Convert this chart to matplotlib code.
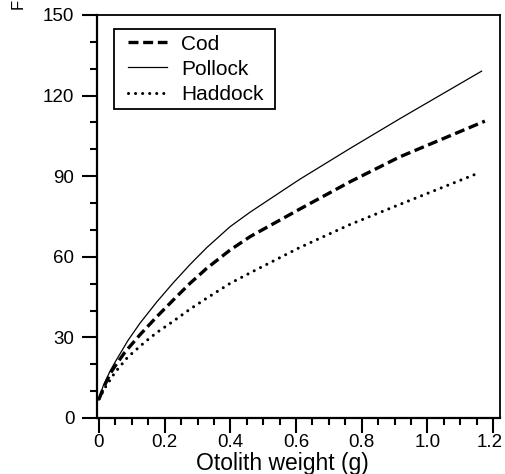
import matplotlib
matplotlib.use("Agg")
import matplotlib.pyplot as plt
from matplotlib.ticker import MultipleLocator, FixedLocator
from matplotlib.patches import Rectangle
from matplotlib.transforms import ScaledTranslation

plt.rcParams['font.family'] = ['Liberation Sans', 'DejaVu Sans']

# Data (otolith weight in g, fish length)
pollock_w = [0, 0.013, 0.034, 0.05, 0.088, 0.125, 0.176, 0.226, 0.277, 0.328, 0.399, 0.46, 0.571, 0.612, 0.764, 0.916, 1.165]
pollock_l = [7.0, 12.0, 17.5, 21.0, 28.8, 35.3, 43.2, 50.3, 57.1, 63.4, 71.2, 76.6, 85.6, 88.9, 100.3, 111.4, 129.1]

cod_w = [0, 0.013, 0.034, 0.05, 0.079, 0.125, 0.176, 0.226, 0.277, 0.328, 0.399, 0.46, 0.612, 0.764, 0.916, 1.175]
cod_l = [7.0, 11.0, 16.5, 19.5, 24.5, 31.0, 37.7, 43.9, 50.1, 55.7, 62.5, 67.5, 77.8, 87.9, 97.2, 110.5]

haddock_w = [0, 0.018, 0.049, 0.088, 0.14, 0.176, 0.226, 0.277, 0.328, 0.399, 0.46, 0.612, 0.764, 0.916, 1.16]
haddock_l = [7.0, 11.2, 17.0, 22.7, 28.3, 31.8, 36.0, 40.5, 44.6, 50.1, 54.0, 63.5, 72.0, 79.5, 91.4]

x_ticks = [0, 0.2, 0.4, 0.6, 0.8, 1.0, 1.2]
x_tick_labels = ["0", "0.2", "0.4", "0.6", "0.8", "1.0", "1.2"]
y_ticks = [0, 30, 60, 90, 120, 150]
y_tick_labels = ["0", "30", "60", "90", "120", "150"]

W, H = 505, 474
fig = plt.figure(figsize=(W / 100, H / 100), dpi=100)
ax = fig.add_axes([97 / W, (H - 418) / H, (500 - 97) / W, (418 - 15) / H])

ax.plot(cod_w, cod_l, color='black', lw=2.4, linestyle=(0, (3, 1.4)),
        dash_capstyle='butt', label='Cod')
ax.plot(pollock_w, pollock_l, color='black', lw=0.9, linestyle='-', label='Pollock')
ax.plot(haddock_w, haddock_l, color='black', lw=2.2, linestyle=(0, (0.01, 2.3)),
        dash_capstyle='round', label='Haddock')

ax.set_xlim(-0.006, 1.221)
ax.set_ylim(0, 150)

ax.xaxis.set_major_locator(FixedLocator(x_ticks))
ax.set_xticklabels(x_tick_labels)
ax.xaxis.set_minor_locator(MultipleLocator(0.05))
ax.yaxis.set_major_locator(FixedLocator(y_ticks))
ax.set_yticklabels(y_tick_labels)
ax.yaxis.set_minor_locator(MultipleLocator(10))

ax.tick_params(which='major', direction='out', length=10.8, width=1.5, labelsize=13.5, pad=1)
ax.tick_params(axis='y', which='major', pad=5.5)
ax.tick_params(which='minor', direction='out', length=5, width=1.5)
for s in ax.spines.values():
    s.set_linewidth(1.3)
ax.spines['left'].set_linewidth(1.6)
ax.spines['bottom'].set_linewidth(1.6)

# keep the last x tick label inside the canvas
last = ax.get_xticklabels()[-1]
last.set_transform(last.get_transform() + ScaledTranslation(-3 / 100, 0, fig.dpi_scale_trans))

ax.set_xlabel('Otolith weight (g)', fontsize=16.5)
ax.xaxis.set_label_coords(0.46, -0.129)
ax.xaxis.label.set_va('baseline')

# partially visible y-axis label (only the first letter shows in the reference)
fig.text(18.5 / W, 1 - 9.3 / H, 'F', rotation=90, ha='center', va='bottom', fontsize=12)

# legend entries without frame, frame drawn separately
leg = ax.legend(loc='upper left', bbox_to_anchor=(128 / W, 1 - 34.5 / H),
                bbox_transform=fig.transFigure, frameon=False,
                borderaxespad=0, borderpad=0, fontsize=15, handlelength=1.87,
                handletextpad=0.67, labelspacing=0.3)
fig.patches.append(Rectangle((114 / W, 1 - 109 / H), (275 - 114) / W, (109 - 29) / H,
                             transform=fig.transFigure, fill=False,
                             edgecolor='black', linewidth=1.3, zorder=5))

fig.savefig('out.png', dpi=100)
